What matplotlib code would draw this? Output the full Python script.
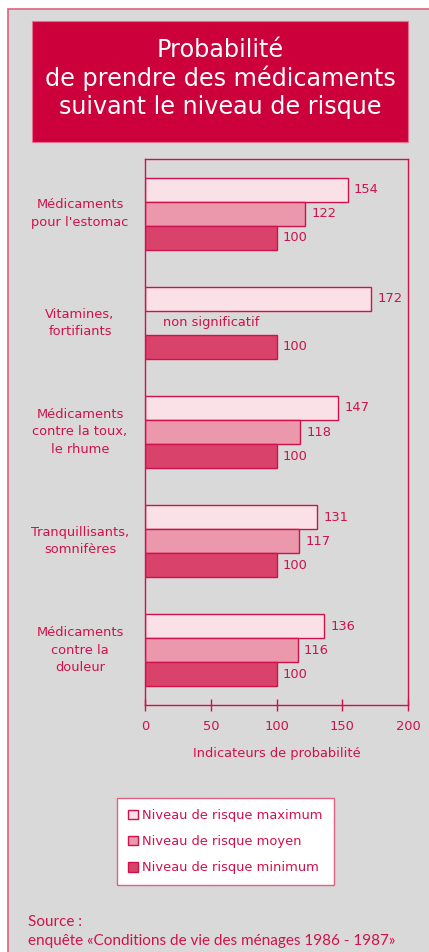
import matplotlib
matplotlib.use("Agg")
import matplotlib.pyplot as plt
import matplotlib.transforms as mtransforms
from matplotlib.patches import Rectangle, Patch
import numpy as np

categories = ["Médicaments\npour l'estomac", "Vitamines,\nfortifiants",
              "Médicaments\ncontre la toux,\nle rhume", "Tranquillisants,\nsomnifères",
              "Médicaments\ncontre la\ndouleur"]
risk_max = [154, 172, 147, 131, 136]
risk_mid = [122, np.nan, 118, 117, 116]
risk_min = [100, 100, 100, 100, 100]
series_labels = ["Niveau de risque maximum", "Niveau de risque moyen", "Niveau de risque minimum"]
xticks = [0, 50, 100, 150, 200]

RED = "#D0124C"
BOX = "#CC003A"
GRAY = "#D9D9D9"
C_MAX = "#F9E1E7"
C_MID = "#EB97AC"
C_MIN = "#D9426B"
FS = 9.4

W, H = 429, 952
plt.rcParams['font.family'] = ['DejaVu Sans']
fig = plt.figure(figsize=(W/100, H/100), dpi=100)
fig.patch.set_facecolor("white")

def fx(px): return px / W
def fy(py): return 1 - py / H

# gray panel (extends past right and bottom edges)
fig.add_artist(Rectangle((fx(8), -0.1), 1, fy(9) + 0.1, transform=fig.transFigure,
                         facecolor=GRAY, edgecolor="#E06080", linewidth=1.2, zorder=0))
# title box
fig.add_artist(Rectangle((fx(32), fy(142)), fx(408) - fx(32), fy(21) - fy(142),
                         transform=fig.transFigure, facecolor=BOX, edgecolor="#E87090",
                         linewidth=0.8, zorder=1))
for txt, y in [("Probabilité", 57), ("de prendre des médicaments", 86),
               ("suivant le niveau de risque", 114)]:
    fig.text(fx(220), fy(y), txt, color="white", fontsize=17.2, ha="center", va="baseline")

ax = fig.add_axes([fx(145), fy(705), fx(408) - fx(145), fy(159) - fy(705)])
ax.set_facecolor(GRAY)
n = len(categories)
pos = np.arange(n)
h = 0.22
ax.barh(pos - h, risk_max, height=h, color=C_MAX, edgecolor=RED, linewidth=1)
ax.barh(pos, risk_mid, height=h, color=C_MID, edgecolor=RED, linewidth=1)
ax.barh(pos + h, risk_min, height=h, color=C_MIN, edgecolor=RED, linewidth=1)

for vals, off in [(risk_max, -h), (risk_mid, 0), (risk_min, h)]:
    for i, v in enumerate(vals):
        if np.isnan(v):
            ax.text(13.9, i + off, "non significatif", color=RED, fontsize=FS, va="center", ha="left")
        else:
            ax.annotate(f"{v:g}", (v, i + off), xytext=(4.5, 0), textcoords="offset points",
                        color=RED, fontsize=FS, va="center", ha="left")

ax.set_xlim(0, 200)
ax.set_ylim(n - 0.5, -0.5)
ax.set_yticks([])
ax.set_xticks(xticks)
ax.tick_params(axis="x", direction="inout", length=8, width=1, colors=RED, labelsize=FS, pad=7)
for s in ax.spines.values():
    s.set_color(RED)
    s.set_linewidth(1)
ax.set_xlabel("Indicateurs de probabilité", color=RED, fontsize=FS, labelpad=10)

trans = mtransforms.blended_transform_factory(ax.transAxes, ax.transData)
for i, c in enumerate(categories):
    ax.text((80 - 145) / 263, i, c, transform=trans, ha="center", va="center",
            color=RED, fontsize=FS, linespacing=1.45, multialignment="center")

handles = [Patch(facecolor=C_MAX, edgecolor=RED), Patch(facecolor=C_MID, edgecolor=RED),
           Patch(facecolor=C_MIN, edgecolor=RED)]
leg = fig.legend(handles, series_labels, loc="upper left", bbox_to_anchor=(fx(117), fy(798)),
                 frameon=True, fancybox=False, facecolor="white", edgecolor="#E06080",
                 framealpha=1, fontsize=FS, handlelength=0.77, handleheight=0.77,
                 handletextpad=0.3, labelspacing=1.0, borderpad=0.85, borderaxespad=0)
for t in leg.get_texts():
    t.set_color(RED)
leg.get_frame().set_linewidth(1)

fig.text(fx(28), fy(926), "Source :", color=RED, fontsize=11, ha="left", va="baseline",
         family=["Lato", "DejaVu Sans"])
fig.text(fx(28), fy(945), "enquête «Conditions de vie des ménages 1986 - 1987»", color=RED,
         fontsize=11, ha="left", va="baseline", family=["Lato", "DejaVu Sans"])

fig.savefig("out.png", dpi=100, facecolor=fig.get_facecolor())
